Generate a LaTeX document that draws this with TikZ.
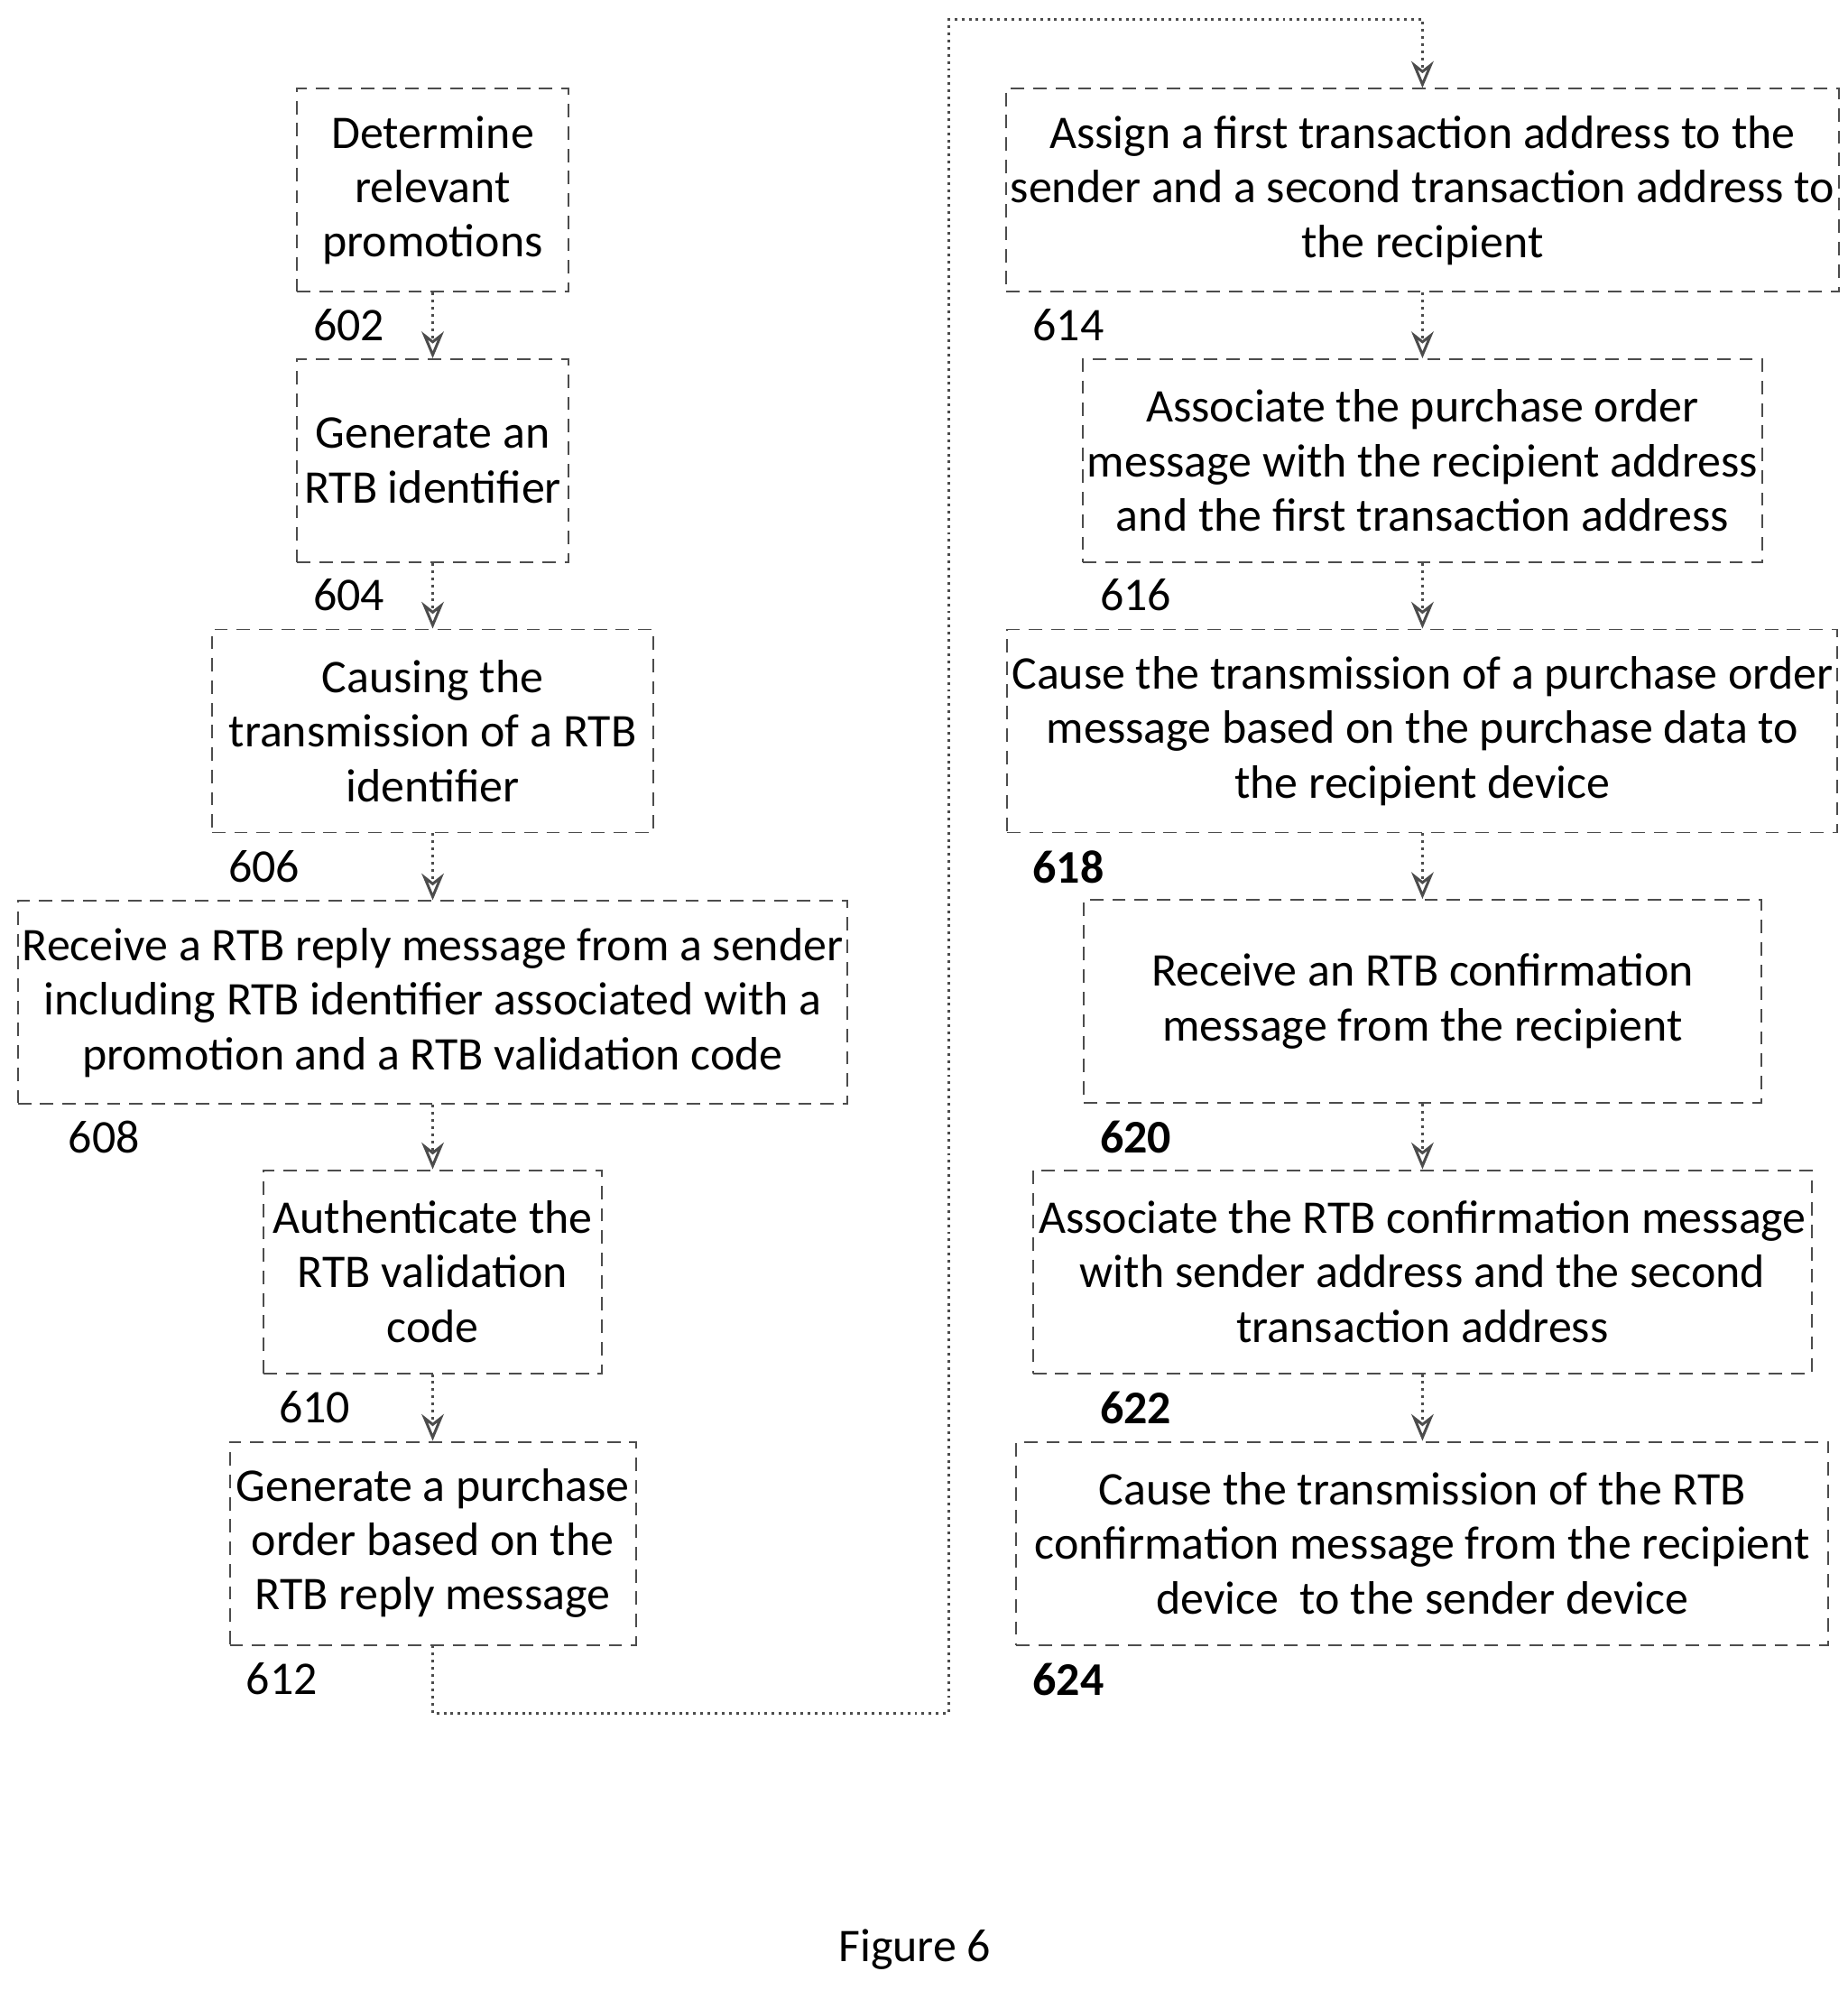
\documentclass[tikz,border=0pt]{standalone}
\usepackage{fontspec}
\setmainfont{Carlito}
\usetikzlibrary{arrows.meta}

\begin{document}
\begin{tikzpicture}[thick,
  box/.style={draw=black!70, densely dashed, thin, align=center, inner sep=1pt,
              font=\fontsize{10.5}{12.2}\selectfont},
  num/.style={font=\fontsize{10.5}{12}\selectfont},
  flow/.style={->, >={Stealth[length=6pt,width=5pt,open]}, black!70, densely dotted, semithick}]

  \useasboundingbox (0,0) rectangle (14.56,-15.68);

  % left column
  \node[box, minimum width=2.14cm, minimum height=1.6cm] (b602) at (3.41,-1.50) {Determine\\relevant\\promotions};
  \node[box, minimum width=2.14cm, minimum height=1.6cm] (b604) at (3.41,-3.63) {Generate an\\RTB identifier};
  \node[box, minimum width=3.48cm, minimum height=1.6cm] (b606) at (3.41,-5.76) {Causing the\\transmission of a RTB\\identifier};
  \node[box, minimum width=6.54cm, minimum height=1.6cm] (b608) at (3.41,-7.90) {Receive a RTB reply message from a sender\\including RTB identifier associated with a\\promotion and a RTB validation code};
  \node[box, minimum width=2.67cm, minimum height=1.6cm] (b610) at (3.41,-10.02) {Authenticate the\\RTB validation\\code};
  \node[box, minimum width=3.20cm, minimum height=1.6cm] (b612) at (3.41,-12.16) {Generate a purchase\\order based on the\\RTB reply message};

  % right column
  \node[box, minimum width=6.40cm, minimum height=1.6cm] (b614) at (11.21,-1.50) {Assign a first transaction address to the\\sender and a second transaction address to\\the recipient};
  \node[box, minimum width=5.34cm, minimum height=1.6cm] (b616) at (11.21,-3.63) {Associate the purchase order\\message with the recipient address\\and the first transaction address};
  \node[box, minimum width=6.40cm, minimum height=1.6cm] (b618) at (11.21,-5.76) {Cause the transmission of a purchase order\\message based on the purchase data to\\the recipient device};
  \node[box, minimum width=5.34cm, minimum height=1.6cm] (b620) at (11.21,-7.89) {Receive an RTB confirmation\\message from the recipient};
  \node[box, minimum width=6.14cm, minimum height=1.6cm] (b622) at (11.21,-10.02) {Associate the RTB confirmation message\\with sender address and the second\\transaction address};
  \node[box, minimum width=6.40cm, minimum height=1.6cm] (b624) at (11.21,-12.16) {Cause the transmission of the RTB\\confirmation message from the recipient\\device\ \ to the sender device};

  % step numbers
  \node[num] (n602) at (2.75,-2.56)  {602};
  \node[num] (n604) at (2.75,-4.69)  {604};
  \node[num] (n606) at (2.08,-6.83)  {606};
  \node[num] (n608) at (0.82,-8.96)  {608};
  \node[num] (n610) at (2.48,-11.09) {610};
  \node[num] (n612) at (2.22,-13.23) {612};
  \node[num] (n614) at (8.42,-2.56)  {614};
  \node[num] (n616) at (8.95,-4.69)  {616};
  \node[num] (n618) at (8.42,-6.83)  {\bfseries 618};
  \node[num] (n620) at (8.95,-8.96)  {\bfseries 620};
  \node[num] (n622) at (8.95,-11.09) {\bfseries 622};
  \node[num] (n624) at (8.42,-13.23) {\bfseries 624};

  \coordinate (c1) at (3.41,-13.50);
  \coordinate (c2) at (7.48,-13.50);
  \coordinate (c3) at (7.48,-0.15);
  \coordinate (c4) at (11.21,-0.15);

  \draw[flow] (b602) -- (b604);
  \draw[flow] (b604) -- (b606);
  \draw[flow] (b606) -- (b608);
  \draw[flow] (b608) -- (b610);
  \draw[flow] (b610) -- (b612);
  \draw[flow] (b612) -- (c1) -- (c2) -- (c3) -- (c4) -- (b614);
  \draw[flow] (b614) -- (b616);
  \draw[flow] (b616) -- (b618);
  \draw[flow] (b618) -- (b620);
  \draw[flow] (b620) -- (b622);
  \draw[flow] (b622) -- (b624);

  \node[num] (fig) at (7.21,-15.36) {Figure 6};

\end{tikzpicture}
\end{document}
